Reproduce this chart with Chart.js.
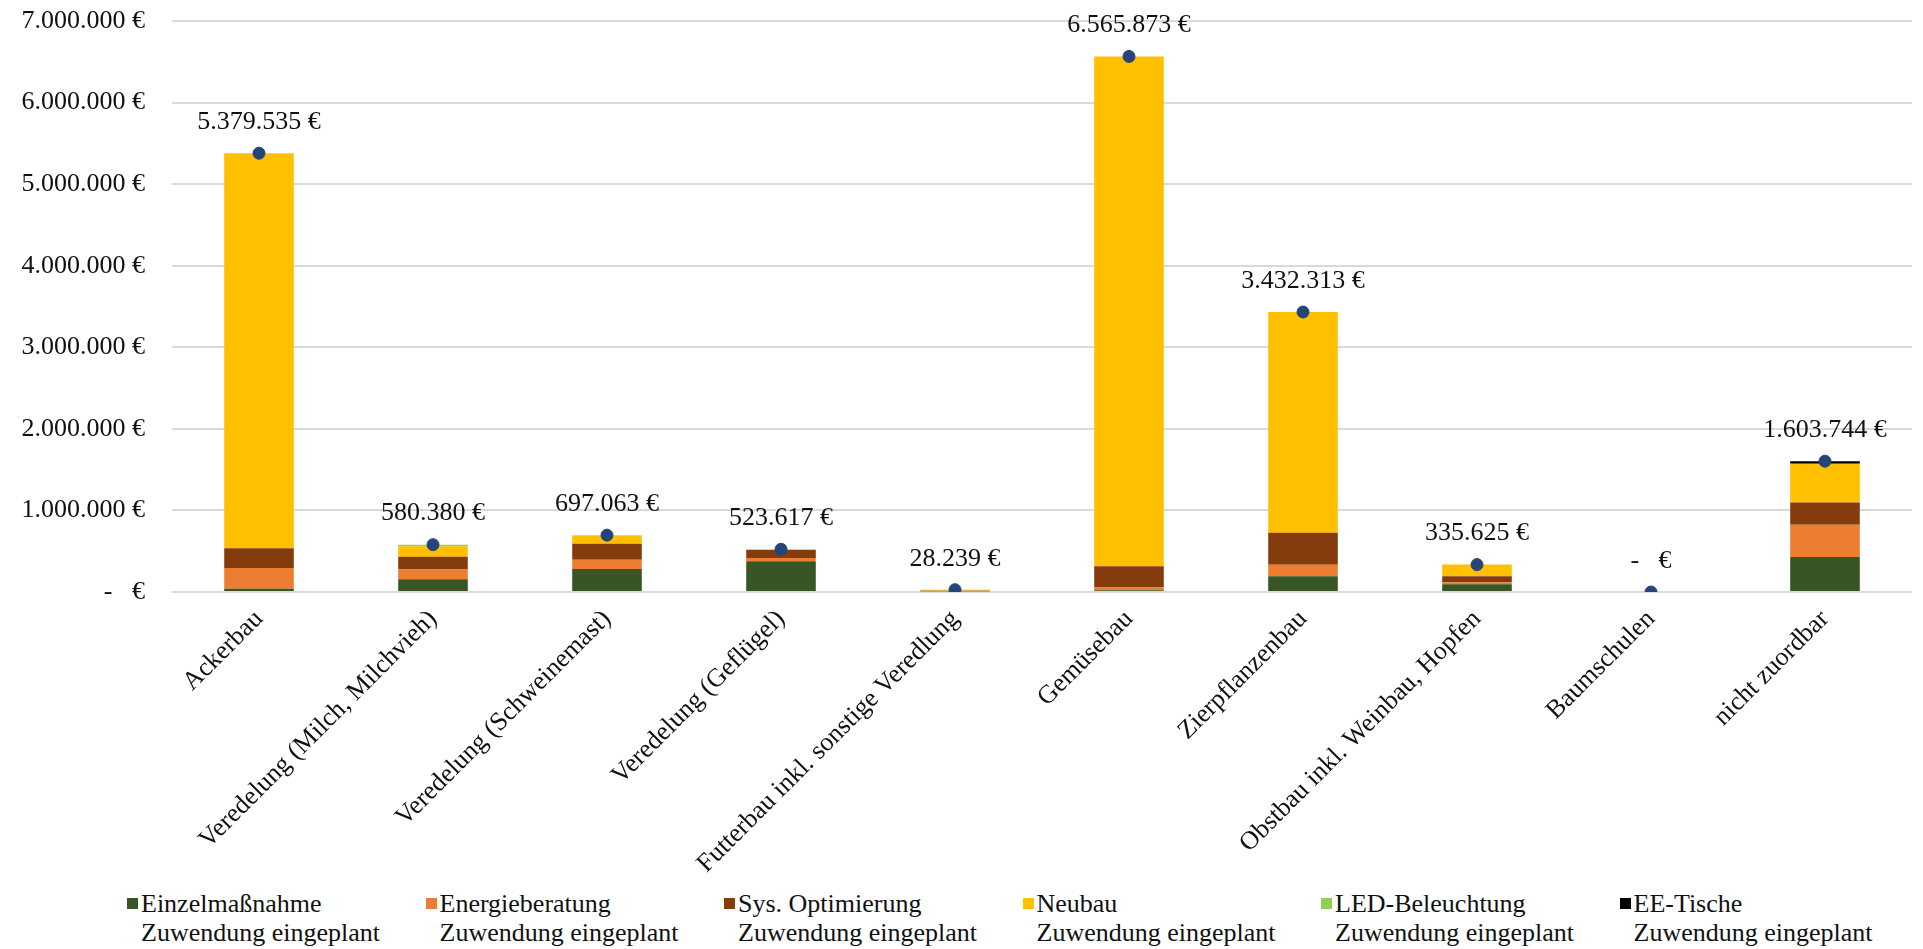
<!DOCTYPE html>
<html>
<head>
<meta charset="utf-8">
<script src="https://cdn.jsdelivr.net/npm/chart.js@4"></script>
<style>
  body { margin: 0; background: #fff; }
  #wrap { position: relative; width: 1923px; height: 949px; }
  #chartBox { position: absolute; left: 0; top: 0; width: 1923px; height: 884px; }
  #legend { position: absolute; left: 127px; top: 889px; display: flex; font-family: "Liberation Serif", serif; font-size: 26px; color: #111; }
  .item { width: 298.5px; display: flex; line-height: 29px; white-space: nowrap; }
  .box { width: 11px; height: 11px; margin-top: 9px; margin-right: 3px; flex: none; }
</style>
</head>
<body>
<div id="wrap">
  <div id="chartBox"><canvas id="chart"></canvas></div>
  <div id="legend"></div>
</div>
<script>
const categories = ['Ackerbau', 'Veredelung (Milch, Milchvieh)', 'Veredelung (Schweinemast)', 'Veredelung (Geflügel)',
  'Futterbau inkl. sonstige Veredlung', 'Gemüsebau', 'Zierpflanzenbau', 'Obstbau inkl. Weinbau, Hopfen', 'Baumschulen', 'nicht zuordbar'];

const einzelmassnahme = [40000, 157000, 282000, 376000, 8000, 20000, 192000, 94000, 0, 429000];
const energieberatung = [255000, 118000, 113000, 40000, 5000, 35000, 143000, 25000, 0, 396000];
const sysOptimierung = [240000, 158000, 196000, 100000, 3000, 262000, 392000, 73000, 0, 273000];
const neubau = [4844535, 127000, 100000, 7617, 5000, 6248873, 2705313, 143625, 0, 473000];
const ledBeleuchtung = [0, 20380, 6063, 0, 7239, 0, 0, 0, 0, 0];
const eeTische = [0, 0, 0, 0, 0, 0, 0, 0, 0, 32744];
const totals = [5379535, 580380, 697063, 523617, 28239, 6565873, 3432313, 335625, 0, 1603744];

const yTicks = [0, 1000000, 2000000, 3000000, 4000000, 5000000, 6000000, 7000000];

const seriesNames = ['Einzelmaßnahme', 'Energieberatung', 'Sys. Optimierung', 'Neubau', 'LED-Beleuchtung', 'EE-Tische'];
const seriesColors = ['#375623', '#ED7D31', '#843C0C', '#FFC000', '#92D050', '#000000'];
const seriesData = [einzelmassnahme, energieberatung, sysOptimierung, neubau, ledBeleuchtung, eeTische];

const fontFamily = '"Liberation Serif", "Times New Roman", serif';

// accounting style like excel: 1.234.567 €, zero as "-   €"
function euro(v) {
  if (v === 0) return '-   €';
  return String(Math.round(v)).replace(/\B(?=(\d{3})+(?!\d))/g, '.') + ' €';
}

const totalLabels = {
  id: 'totalLabels',
  afterDatasetsDraw(chart) {
    const ctx = chart.ctx;
    const meta = chart.getDatasetMeta(seriesNames.length);
    ctx.save();
    ctx.font = '26px ' + fontFamily;
    ctx.fillStyle = '#111';
    ctx.textAlign = 'center';
    ctx.textBaseline = 'middle';
    meta.data.forEach((pt, i) => {
      ctx.fillText(euro(totals[i]), pt.x, pt.y - 31);
    });
    ctx.restore();
  }
};

const datasets = seriesNames.map((name, i) => ({
  type: 'bar',
  label: name + ' Zuwendung eingeplant',
  data: seriesData[i],
  backgroundColor: seriesColors[i],
  stack: 'parts',
  order: 1,
  barPercentage: 0.4,
  categoryPercentage: 1
}));

datasets.push({
  type: 'line',
  label: 'Summe',
  data: totals,
  showLine: false,
  pointRadius: 6,
  pointBackgroundColor: '#264478',
  pointBorderColor: '#264478',
  stack: 'total',
  order: 0
});

new Chart(document.getElementById('chart'), {
  data: { labels: categories, datasets: datasets },
  options: {
    responsive: true,
    maintainAspectRatio: false,
    animation: false,
    layout: { padding: { top: 21, right: 11, bottom: 0, left: 0 } },
    plugins: {
      legend: { display: false },
      tooltip: { enabled: false }
    },
    scales: {
      x: {
        stacked: true,
        grid: { display: false },
        border: { display: false },
        afterFit: (axis) => { axis.height = 292; },
        ticks: {
          autoSkip: false,
          maxRotation: 45,
          minRotation: 45,
          color: '#111',
          padding: 4,
          font: { family: fontFamily, size: 26 }
        }
      },
      y: {
        stacked: true,
        min: 0,
        max: 7000000,
        afterFit: (axis) => {
          axis.width = 172;
          axis.paddingTop = 0;
          axis.paddingBottom = 0;
        },
        afterBuildTicks: (axis) => { axis.ticks = yTicks.map(v => ({ value: v })); },
        grid: { color: '#d9d9d9', lineWidth: 2, drawTicks: false },
        border: { display: false },
        ticks: {
          color: '#111',
          padding: 27,
          font: { family: fontFamily, size: 26 },
          callback: (v) => euro(v)
        }
      }
    }
  },
  plugins: [totalLabels]
});

// legend below the chart, two lines per entry
const legend = document.getElementById('legend');
seriesNames.forEach((name, i) => {
  const item = document.createElement('div');
  item.className = 'item';
  item.innerHTML = '<div class="box" style="background:' + seriesColors[i] + '"></div><div>' + name + '<br>Zuwendung eingeplant</div>';
  legend.appendChild(item);
});
</script>
</body>
</html>
